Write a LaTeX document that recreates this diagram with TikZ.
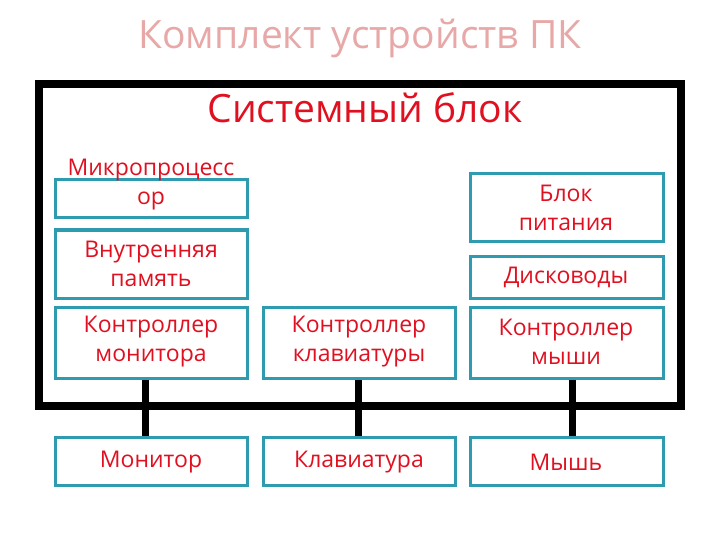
\documentclass[tikz,border=0pt]{standalone}
\usepackage{fontspec}
\setmainfont{Open Sans}
\definecolor{tred}{HTML}{E01020}
\definecolor{tpink}{HTML}{E8A8A8}
\definecolor{tteal}{HTML}{2E9BB0}
\begin{document}
\begin{tikzpicture}[x=1pt,y=-1pt,
 bx/.style={draw=tteal,line width=3pt,fill=white,inner sep=0pt},
 tx/.style={text=tred,font=\fontsize{23}{29}\selectfont,align=center},
 wire/.style={line width=7pt,black}]
\useasboundingbox (0,0) rectangle (720,540);
\fill[white] (0,0) rectangle (720,540);
\node[text=tpink,font=\fontsize{39}{44}\selectfont] (title) at (360,38) {Комплект устройств ПК};
% wires
\coordinate (w1a) at (145,378); \coordinate (w1b) at (145,437);
\coordinate (w2a) at (358,378); \coordinate (w2b) at (358,437);
\coordinate (w3a) at (572,378); \coordinate (w3b) at (572,437);
\draw[wire] (w1a) -- (w1b); \draw[wire] (w2a) -- (w2b); \draw[wire] (w3a) -- (w3b);
\draw[line width=8pt] (39,84) rectangle (681,406);
\node[text=tred,font=\fontsize{39}{44}\selectfont] (sb) at (365,108) {Системный блок};
% boxes
\draw[bx] (55,180) rectangle (247,218); \node[tx] (mp) at (151,185) {Микропроцесс\\ор};
\draw[bx] (55,230) rectangle (247,298); \node[tx] (vp) at (151,264) {Внутренняя\\память};
\draw[bx] (470,174) rectangle (663,241); \node[tx] (bp) at (566,208) {Блок\\питания};
\draw[bx] (470,256) rectangle (663,298); \node[tx] (dk) at (566,277) {Дисководы};
\draw[bx] (55,307) rectangle (247,378); \node[tx] (km) at (151,342) {Контроллер\\монитора};
\draw[bx] (263,307) rectangle (455,378); \node[tx] (kk) at (359,342) {Контроллер\\клавиатуры};
\draw[bx] (470,307) rectangle (663,378); \node[tx] (kms) at (566,342) {Контроллер\\мыши};
\draw[bx] (55,437) rectangle (247,485); \node[tx] (mon) at (151,462) {Монитор};
\draw[bx] (263,437) rectangle (455,485); \node[tx] (kl) at (359,462) {Клавиатура};
\draw[bx] (470,437) rectangle (663,485); \node[tx] (ms) at (566,462) {Мышь};
\end{tikzpicture}
\end{document}
